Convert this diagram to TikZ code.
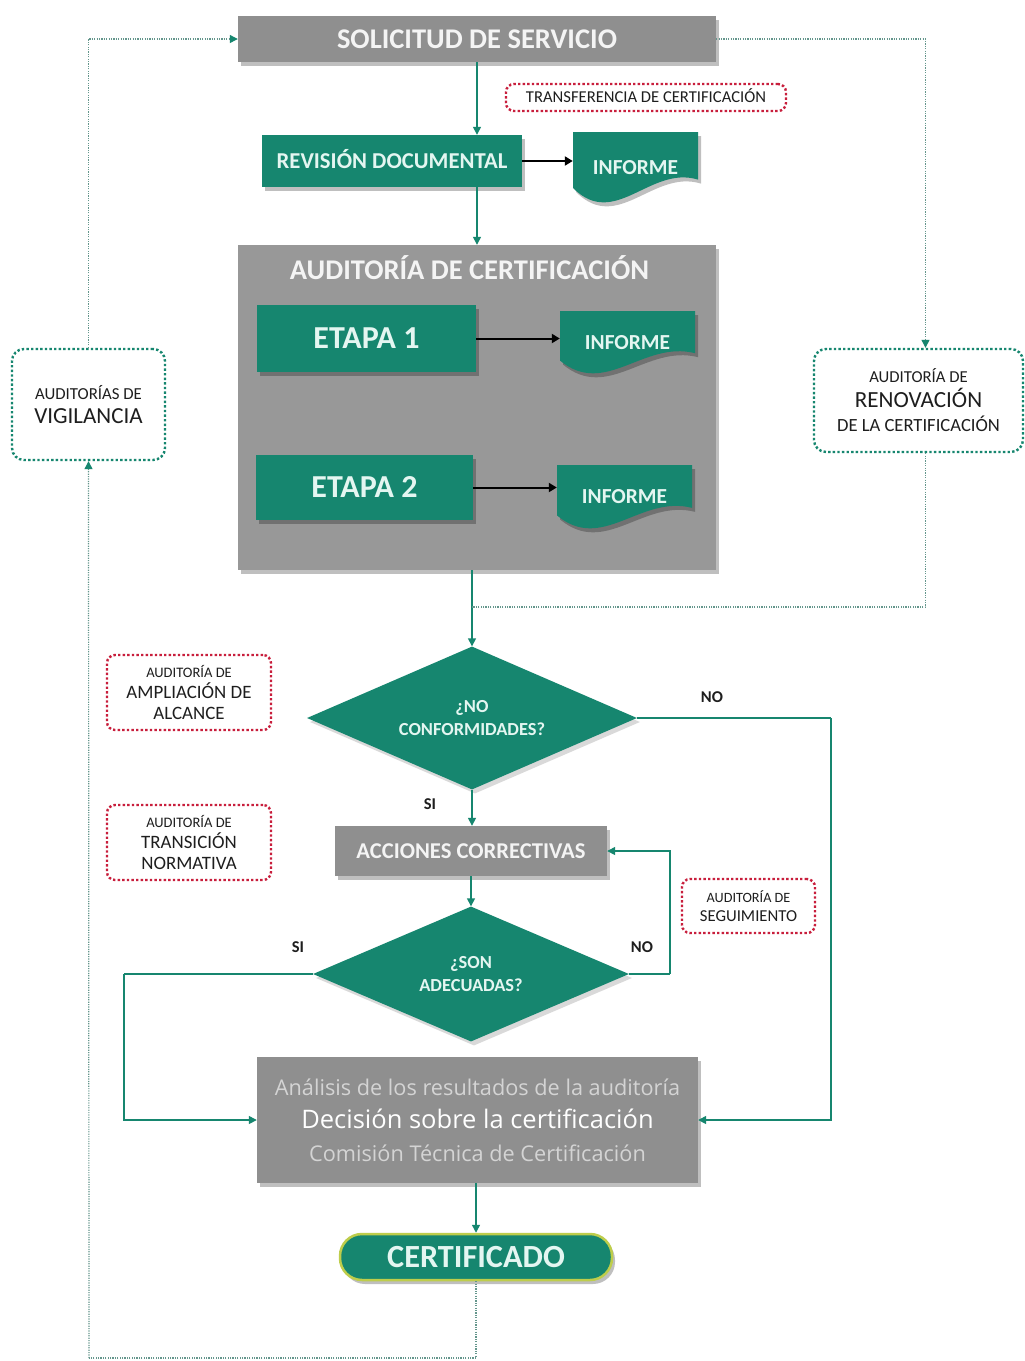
\documentclass[tikz,border=0pt]{standalone}
\usepackage{fontspec}
\setmainfont{Carlito}
\newfontfamily\osans{Open Sans}
\usetikzlibrary{shapes.geometric,arrows.meta,shadows,calc}
\definecolor{tealc}{RGB}{22,134,111}
\definecolor{grayc}{RGB}{143,143,143}
\definecolor{contc}{RGB}{152,152,152}
\definecolor{tealtxt}{RGB}{228,246,241}
\definecolor{graytxt}{RGB}{244,244,244}
\definecolor{lighttxt}{RGB}{212,212,212}
\definecolor{dotc}{RGB}{100,150,140}
\definecolor{redd}{RGB}{200,30,60}
\definecolor{limec}{RGB}{190,205,75}
\definecolor{inkc}{RGB}{30,30,30}
\newcommand\mydoc[4]{%
  \fill[tealc,shad] (#1,#2) -- ({#1+#3},#2) -- ({#1+#3},{#2+0.68*#4})
    .. controls ({#1+0.616*#3},{#2+0.47*#4}) and ({#1+0.336*#3},{#2+1.4*#4}) .. (#1,{#2+0.8*#4}) -- cycle;}
\begin{document}
\begin{tikzpicture}[x=1pt,y=-1pt,
  shad/.style={drop shadow={shadow xshift=3pt,shadow yshift=-4pt,opacity=.25,fill=black}},
  lightshad/.style={drop shadow={shadow xshift=3pt,shadow yshift=-4pt,opacity=.15,fill=black}},
  capline/.style={text height=#1,text depth=0pt},
  graybox/.style={fill=grayc,text=graytxt,inner sep=0pt,shad},
  tealbox/.style={fill=tealc,text=tealtxt,inner sep=0pt,shad},
  doctext/.style={text=tealtxt,inner sep=0pt,capline=13.8pt,font=\bfseries\fontsize{21.4}{24}\selectfont},
  flow/.style={draw=tealc,line width=1.4pt,-{Triangle[width=8pt,length=8pt]}},
  flowline/.style={draw=tealc,line width=1.4pt},
  blackarrow/.style={draw=black,line width=2pt,-{Triangle[width=9pt,length=8pt]}},
  dots/.style={draw=dotc,line width=1.2pt,dash pattern=on 1.2pt off 1.2pt},
  dotarrow/.style={dots,-{Triangle[width=8pt,length=8pt,color=tealc]}},
  redbox/.style={draw=redd,line width=2.4pt,dash pattern=on 2.4pt off 2.2pt,rounded corners=8pt,fill=white,align=center,text=inkc,inner sep=0pt},
  tealdbox/.style={draw=tealc,line width=2.4pt,dash pattern=on 2.4pt off 2.2pt,rounded corners=12pt,fill=white,align=center,text=inkc,inner sep=0pt},
  lbl/.style={text=inkc,font=\bfseries\fontsize{16.5}{18}\selectfont,inner sep=0pt,capline=10.6pt},
  diam/.style={diamond,aspect=2.3,fill=tealc,text=tealtxt,inner sep=0pt,align=center,lightshad,font=\bfseries\fontsize{18.4}{23}\selectfont}
]
\useasboundingbox (0,0) rectangle (1025,1361);
\fill[white] (0,0) rectangle (1025,1361);

% top
\node[graybox,capline=18.4pt,minimum width=478,minimum height=46,font=\bfseries\fontsize{28.5}{30}\selectfont] (sol) at (477,39) {SOLICITUD DE SERVICIO};
\node[redbox,capline=10.7pt,minimum width=280,minimum height=27,font=\fontsize{16.6}{18}\selectfont] (trans) at (646,97.5) {TRANSFERENCIA DE CERTIFICACIÓN};
\node[tealbox,capline=14.6pt,minimum width=260,minimum height=52,font=\bfseries\fontsize{22.7}{24}\selectfont] (rev) at (392,161) {REVISIÓN DOCUMENTAL};
\mydoc{573}{132}{125}{70}
\node[doctext,minimum width=125] (inf0) at (635.5,168) {INFORME};

% container
\node[fill=contc,shad,minimum width=478,minimum height=325,inner sep=0pt] (cont) at (477,407.5) {};
\node[text=graytxt,capline=18.4pt,inner sep=0pt,font=\bfseries\fontsize{28.5}{30}\selectfont] (conttitle) at (469.5,270) {AUDITORÍA DE CERTIFICACIÓN};
\node[tealbox,capline=20.6pt,minimum width=219,minimum height=67,font=\bfseries\fontsize{32}{34}\selectfont] (e1) at (366.5,338.5) {ETAPA 1};
\node[tealbox,capline=20.6pt,minimum width=217,minimum height=65,font=\bfseries\fontsize{32}{34}\selectfont] (e2) at (364.5,487.5) {ETAPA 2};
\mydoc{560}{311}{135}{62}
\node[doctext,minimum width=135] (inf1) at (627.5,343) {INFORME};
\mydoc{557}{465}{135}{63}
\node[doctext,minimum width=135] (inf2) at (624.5,497) {INFORME};

% side boxes
\node[tealdbox,minimum width=153,minimum height=111,font=\fontsize{23}{24}\selectfont] (vig) at (88.5,404.5) {{\fontsize{16.8}{24}\selectfont AUDITORÍAS DE}\\VIGILANCIA};
\node[tealdbox,minimum width=209,minimum height=103,font=\fontsize{23.1}{24.5}\selectfont] (ren) at (918.5,400.5) {{\fontsize{16.7}{24.5}\selectfont AUDITORÍA DE}\\RENOVACIÓN\\{\fontsize{18.6}{24.5}\selectfont DE LA CERTIFICACIÓN}};
\node[redbox,minimum width=164,minimum height=75,font=\fontsize{18.9}{21}\selectfont] (amp) at (189,692.5) {{\fontsize{14.5}{21}\selectfont AUDITORÍA DE}\\AMPLIACIÓN DE\\ALCANCE};
\node[redbox,minimum width=164,minimum height=75,font=\fontsize{18.9}{21}\selectfont] (tra) at (189,842.5) {{\fontsize{14.5}{21}\selectfont AUDITORÍA DE}\\TRANSICIÓN\\NORMATIVA};
\node[redbox,minimum width=133,minimum height=54,font=\fontsize{16.7}{18.5}\selectfont] (seg) at (748.5,906) {{\fontsize{14.2}{18.5}\selectfont AUDITORÍA DE}\\SEGUIMIENTO};

% decisions
\node[diam,minimum width=330,minimum height=143] (d1) at (472,718) {¿NO\\CONFORMIDADES?};
\node[graybox,capline=14.6pt,minimum width=272,minimum height=50,font=\bfseries\fontsize{22.6}{24}\selectfont] (acc) at (471,851) {ACCIONES CORRECTIVAS};
\node[diam,minimum width=316,minimum height=135] (d2) at (471,974) {¿SON\\ADECUADAS?};
\node[graybox,minimum width=441,minimum height=126,align=center,font=\osans\fontsize{21.7}{33}\selectfont] (dec) at (477.5,1120)
  {{\color{lighttxt}Análisis de los resultados de la auditoría}\\{\color{white}\fontsize{25.5}{33}\selectfont Decisión sobre la certificación}\\{\color{lighttxt}Comisión Técnica de Certificación}};
\node[fill=tealc,draw=limec,line width=2.5pt,rounded corners=22pt,minimum width=272,minimum height=46,inner sep=0pt,text=tealtxt,capline=20.8pt,font=\bfseries\fontsize{32.3}{34}\selectfont,shad] (cert) at (476,1257) {CERTIFICADO};

% labels
\node[lbl] (si1) at (430,804) {SI};
\node[lbl] (si2) at (298,947) {SI};
\node[lbl] (no2) at (642,947) {NO};
\node[lbl] (no1) at (712,697) {NO};

% coordinates
\coordinate (l1) at (124,974);
\coordinate (r1) at (670,974);
\coordinate (r2) at (831,718);
\coordinate (j1) at (472,607);
\coordinate (bl) at (89,1358);

% solid connectors
\draw[flow] (sol.south) -- (sol.south |- rev.north);
\draw[blackarrow] (rev.east) -- (rev.east -| inf0.west);
\draw[flow] (rev.south -| sol.south) -- (cont.north);
\draw[blackarrow] (e1.east) -- (e1.east -| inf1.west);
\draw[blackarrow] (e2.east) -- (e2.east -| inf2.west);
\draw[flow] (cont.south -| d1.north) -- (d1.north);
\draw[flow] (d1.south) -- (d1.south |- acc.north);
\draw[flow] (acc.south) -- (d2.north);
\draw[flowline] (d2.west) -- (l1);
\draw[flow] (l1) |- (dec.west);
\draw[flowline] (d2.east) -- (r1);
\draw[flow] (r1) |- (acc.east);
\draw[flowline] (d1.east) -- (r2);
\draw[flow] (r2) |- (dec.east);
\draw[flow] (dec.south -| cert.north) -- (cert.north);

% dotted connectors
\draw[dots] (cert.south) |- (bl);
\draw[dotarrow] (bl) -- (vig.south);
\draw[dotarrow] (vig.north) |- (sol.west);
\draw[dotarrow] (sol.east) -| ([xshift=7pt]ren.north);
\draw[dots] ([xshift=7pt]ren.south) |- (j1);
\end{tikzpicture}
\end{document}
